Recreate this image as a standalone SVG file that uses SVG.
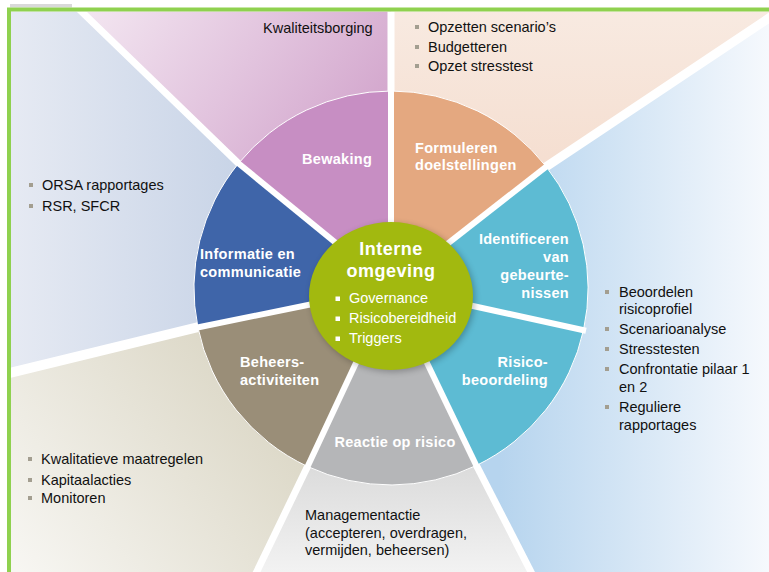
<svg xmlns="http://www.w3.org/2000/svg" width="769" height="572" viewBox="0 0 769 572">
<defs>
<style>
.t{font-family:"Liberation Sans",Arial,sans-serif;font-size:14.5px;fill:#111}
.w{font-family:"Liberation Sans",Arial,sans-serif;font-size:14.5px;font-weight:bold;fill:#fff;letter-spacing:0.3px}
.wi{font-family:"Liberation Sans",Arial,sans-serif;font-size:14.5px;fill:#fff}
.big{font-family:"Liberation Sans",Arial,sans-serif;font-size:18px;font-weight:bold;fill:#fff;letter-spacing:0.5px}
.gb{fill:#A39E90}
.sepo{stroke:#fff;fill:none}
.sepi{stroke:#fff;stroke-width:6;fill:none}
.wedge{stroke:#fff;stroke-width:1}
</style>
<clipPath id="frame"><rect x="11" y="11.5" width="770" height="570"/></clipPath>
<linearGradient id="gPink" x1="80" y1="0" x2="380" y2="230" gradientUnits="userSpaceOnUse">
<stop offset="0" stop-color="#F4E8F2"/><stop offset="0.45" stop-color="#E2C4DE"/><stop offset="1" stop-color="#CB97C4"/></linearGradient>
<linearGradient id="gLeft" x1="11" y1="0" x2="330" y2="0" gradientUnits="userSpaceOnUse">
<stop offset="0" stop-color="#E6EAF3"/><stop offset="1" stop-color="#BCCBE2"/></linearGradient>
<linearGradient id="gPeach" x1="0" y1="10" x2="0" y2="260" gradientUnits="userSpaceOnUse">
<stop offset="0" stop-color="#F8EAE1"/><stop offset="1" stop-color="#F3D7C6"/></linearGradient>
<linearGradient id="gRight" x1="500" y1="0" x2="769" y2="0" gradientUnits="userSpaceOnUse">
<stop offset="0" stop-color="#B6D4EE"/><stop offset="1" stop-color="#F6F9FD"/></linearGradient>
<linearGradient id="gGrey" x1="0" y1="470" x2="0" y2="572" gradientUnits="userSpaceOnUse">
<stop offset="0" stop-color="#DCDCDC"/><stop offset="1" stop-color="#F2F2F2"/></linearGradient>
<linearGradient id="gBeige" x1="320" y1="340" x2="20" y2="572" gradientUnits="userSpaceOnUse">
<stop offset="0" stop-color="#D5D0BC"/><stop offset="1" stop-color="#F7F6F2"/></linearGradient>
<filter id="sh" x="-20%" y="-20%" width="140%" height="140%"><feGaussianBlur stdDeviation="3"/></filter>
</defs>
<rect width="769" height="572" fill="#fff"/>
<rect x="10" y="4" width="62" height="3.5" fill="#D9D9D9"/>

<g id="backgrounds" clip-path="url(#frame)">
<polygon id="bg-bewaking" points="391,288 238.5,163.4 69.6,0 391,0" fill="url(#gPink)"/>
<polygon id="bg-formuleren" points="391,288 391,0 796,0 546.2,166.6" fill="url(#gPeach)"/>
<polygon id="bg-risico" points="391,288 546.2,166.6 796,0 800,0 800,600 545.4,600 476.3,465.5" fill="url(#gRight)"/>
<polygon id="bg-reactie" points="391,288 476.3,465.5 545.4,600 243.1,600 307.6,466.5" fill="url(#gGrey)"/>
<polygon id="bg-beheers" points="391,288 307.6,466.5 243.1,600 0,600 0,375.4 197.9,327.4" fill="url(#gBeige)"/>
<polygon id="bg-informatie" points="391,288 197.9,327.4 0,375.4 0,0 69.6,0 238.5,163.4" fill="url(#gLeft)"/>
<g id="outer-separators" class="sepo">
<line x1="391" y1="120" x2="391" y2="0" stroke-width="7"/>
<line x1="530" y1="177.5" x2="796" y2="0" stroke-width="9"/>
<line x1="468" y1="449" x2="545.4" y2="600" stroke-width="7"/>
<line x1="315" y1="451" x2="243.1" y2="600" stroke-width="7"/>
<line x1="215" y1="323" x2="0" y2="375.4" stroke-width="10"/>
<line x1="252" y1="176.5" x2="69.6" y2="0" stroke-width="7"/>
</g>
</g>

<g id="frame-border" fill="none" stroke="#8FD14F" stroke-width="4">
<polyline points="9,580 9,9.5 780,9.5"/>
</g>

<g id="formuleren">
<path class="wedge" d="M391,288 L391,91 A197,197 0 0 1 546.2,166.6 Z" fill="#E4A880"/>
<text class="w" x="415" y="153">Formuleren</text>
<text class="w" x="415" y="170">doelstellingen</text>
</g>
<g id="identificeren">
<path class="wedge" d="M391,288 L546.2,166.6 A197,197 0 0 1 583.5,330.1 Z" fill="#5DBBD3"/>
<text class="w" text-anchor="end" x="569" y="244">Identificeren</text>
<text class="w" text-anchor="end" x="569" y="262">van</text>
<text class="w" text-anchor="end" x="569" y="280">gebeurte-</text>
<text class="w" text-anchor="end" x="569" y="298">nissen</text>
</g>
<g id="risicobeoordeling">
<path class="wedge" d="M391,288 L583.5,330.1 A197,197 0 0 1 476.3,465.5 Z" fill="#5DBBD3"/>
<text class="w" text-anchor="end" x="548" y="367">Risico-</text>
<text class="w" text-anchor="end" x="548" y="385">beoordeling</text>
</g>
<g id="reactie">
<path class="wedge" d="M391,288 L476.3,465.5 A197,197 0 0 1 307.6,466.5 Z" fill="#B5B6B8"/>
<text class="w" text-anchor="middle" x="395" y="447">Reactie op risico</text>
</g>
<g id="beheers">
<path class="wedge" d="M391,288 L307.6,466.5 A197,197 0 0 1 197.9,327.4 Z" fill="#9A8E78"/>
<text class="w" x="240" y="367">Beheers-</text>
<text class="w" x="240" y="385">activiteiten</text>
</g>
<g id="informatie">
<path class="wedge" d="M391,288 L197.9,327.4 A197,197 0 0 1 238.5,163.4 Z" fill="#3F65A9"/>
<text class="w" x="200" y="259">Informatie en</text>
<text class="w" x="200" y="277">communicatie</text>
</g>
<g id="bewaking">
<path class="wedge" d="M391,288 L238.5,163.4 A197,197 0 0 1 391,91 Z" fill="#C78EC3"/>
<text class="w" x="302" y="164">Bewaking</text>
</g>

<g id="connectors" class="sepi">
<line x1="391" y1="288" x2="391" y2="88"/>
<line x1="391" y1="288" x2="548.5" y2="164.8"/>
<line x1="391" y1="288" x2="586" y2="330.7"/>
<line x1="391" y1="288" x2="477.6" y2="468.2"/>
<line x1="391" y1="288" x2="306.3" y2="469.2"/>
<line x1="391" y1="288" x2="195" y2="328"/>
<line x1="391" y1="288" x2="236.2" y2="161.5"/>
</g>

<g id="interne-omgeving">
<ellipse cx="393" cy="298" rx="82" ry="74" fill="#000" opacity="0.25" filter="url(#sh)"/>
<ellipse cx="391" cy="296" rx="82" ry="74" fill="#A2B90F"/>
<text class="big" text-anchor="middle" x="391" y="255">Interne</text>
<text class="big" text-anchor="middle" x="391" y="277">omgeving</text>
<rect x="335.5" y="296.5" width="4.5" height="4.5" fill="#fff"/>
<rect x="335.5" y="316.5" width="4.5" height="4.5" fill="#fff"/>
<rect x="335.5" y="336.5" width="4.5" height="4.5" fill="#fff"/>
<text class="wi" x="349" y="303">Governance</text>
<text class="wi" x="349" y="323">Risicobereidheid</text>
<text class="wi" x="349" y="343">Triggers</text>
</g>

<g id="kwaliteitsborging">
<text class="t" x="263" y="33">Kwaliteitsborging</text>
</g>
<g id="doelstellingen-items">
<rect class="gb" x="415" y="25" width="4" height="4"/>
<rect class="gb" x="415" y="45" width="4" height="4"/>
<rect class="gb" x="415" y="64" width="4" height="4"/>
<text class="t" x="428" y="32">Opzetten scenario’s</text>
<text class="t" x="428" y="52">Budgetteren</text>
<text class="t" x="428" y="71">Opzet stresstest</text>
</g>
<g id="informatie-items">
<rect class="gb" x="29" y="183" width="4" height="4"/>
<rect class="gb" x="29" y="204" width="4" height="4"/>
<text class="t" x="42" y="190">ORSA rapportages</text>
<text class="t" x="42" y="211">RSR, SFCR</text>
</g>
<g id="risico-items">
<rect class="gb" x="605" y="290" width="4" height="4"/>
<rect class="gb" x="605" y="327" width="4" height="4"/>
<rect class="gb" x="605" y="347" width="4" height="4"/>
<rect class="gb" x="605" y="367" width="4" height="4"/>
<rect class="gb" x="605" y="405" width="4" height="4"/>
<text class="t" x="619" y="297">Beoordelen</text>
<text class="t" x="619" y="314">risicoprofiel</text>
<text class="t" x="619" y="334">Scenarioanalyse</text>
<text class="t" x="619" y="354">Stresstesten</text>
<text class="t" x="619" y="374">Confrontatie pilaar 1</text>
<text class="t" x="619" y="392">en 2</text>
<text class="t" x="619" y="412">Reguliere</text>
<text class="t" x="619" y="430">rapportages</text>
</g>
<g id="beheers-items">
<rect class="gb" x="28" y="457" width="4" height="4"/>
<rect class="gb" x="28" y="478" width="4" height="4"/>
<rect class="gb" x="28" y="496" width="4" height="4"/>
<text class="t" x="41" y="464">Kwalitatieve maatregelen</text>
<text class="t" x="41" y="485">Kapitaalacties</text>
<text class="t" x="41" y="503">Monitoren</text>
</g>
<g id="reactie-items">
<text class="t" x="305" y="520">Managementactie</text>
<text class="t" x="305" y="538">(accepteren, overdragen,</text>
<text class="t" x="305" y="555">vermijden, beheersen)</text>
</g>
</svg>
